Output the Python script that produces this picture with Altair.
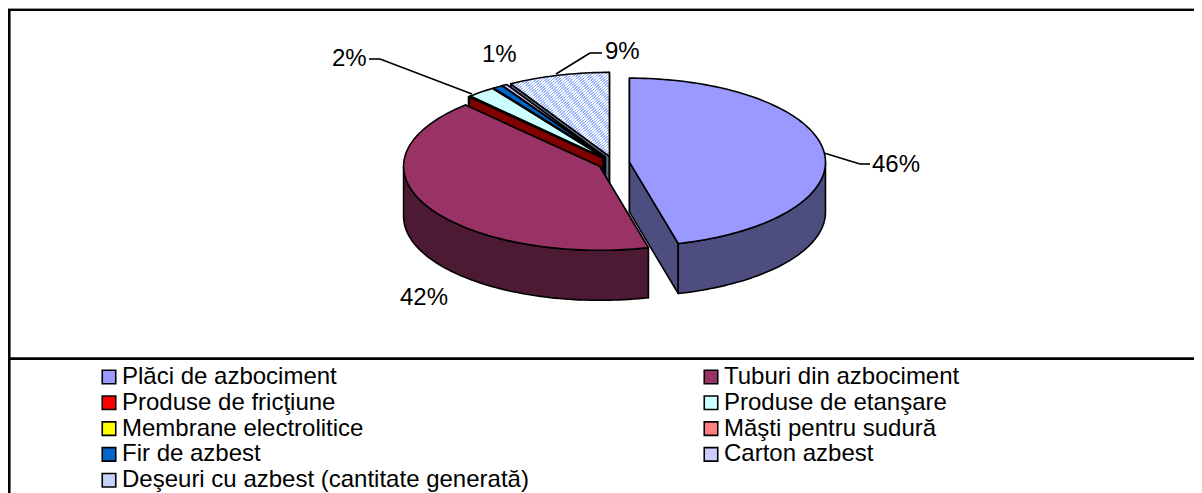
import math
import altair as alt

categories = ["Plăci de azbociment", "Tuburi din azbociment", "Produse de fricţiune",
              "Produse de etanşare", "Membrane electrolitice", "Măşti pentru sudură",
              "Fir de azbest", "Carton azbest", "Deşeuri cu azbest (cantitate generată)"]
values = [46.0, 42.0, 0.1, 2.3, 0.0, 0.0, 0.8, 0.4, 8.4]
top_colors = ["#9999FF", "#993366", "#FF0000", "#CCFFFF", "#FFFF00", "#FF8080",
              "#0066CC", "#CCCCFF", "#C4D2F8"]
side_colors = ["#4D4D80", "#4D1A33", "#800000", "#668080", "#808000", "#804040",
               "#003366", "#666680", "#66708C"]
paint_order = [8, 7, 6, 5, 4, 3, 2, 1, 0]

TILT = 84 / 196        # vertical squash of the pie ellipse
DEPTH = 50 / 196       # wall height, in radii
EXPLODE = 16 / 196     # slice explosion, in radii

def pt(t, ox, oy, drop=0.0):
    return [ox + math.sin(t), oy - TILT * math.cos(t) + drop]

features = []
hatched_top = []
def feature(points, color, order):
    ring = [list(p) for p in points]
    ring.append(ring[0])
    return {"type": "Feature", "geometry": {"type": "Polygon", "coordinates": [ring]},
            "properties": {"c": color, "order": order}}

starts, acc = [], 0.0
for v in values:
    starts.append(acc)
    acc += v
total = acc

order = 0
for i in paint_order:
    if values[i] <= 0:
        continue
    t1 = 2 * math.pi * starts[i] / total
    t2 = 2 * math.pi * (starts[i] + values[i]) / total
    tm = (t1 + t2) / 2
    ox = EXPLODE * math.sin(tm)
    oy = -TILT * EXPLODE * math.cos(tm)
    apex, apex_low = [ox, oy], [ox, oy + DEPTH]
    for t in (t1, t2):
        order += 1
        features.append(feature([apex, pt(t, ox, oy), pt(t, ox, oy, DEPTH), apex_low], side_colors[i], order))
    a, b = max(t1, math.pi / 2), min(t2, 3 * math.pi / 2)
    if b > a:
        n = max(2, int((b - a) * 40))
        ts = [a + (b - a) * k / n for k in range(n + 1)]
        order += 1
        features.append(feature([pt(t, ox, oy) for t in ts] + [pt(t, ox, oy, DEPTH) for t in reversed(ts)],
                                side_colors[i], order))
    n = max(2, int((t2 - t1) * 40))
    ts = [t1 + (t2 - t1) * k / n for k in range(n + 1)]
    order += 1
    top = feature([apex] + [pt(t, ox, oy) for t in ts], top_colors[i], order)
    if i == 8:
        hatched_top.append(top)
    else:
        features.append(top)

W, H = 1186, 485
PROJ = dict(type="identity", scale=196, translate=[613.6 - 8, 163 - 8])

back = [f for f in features if f["properties"]["order"] <= 2]
front = [f for f in features if f["properties"]["order"] > 2]

def shapes(items):
    return (alt.Chart(alt.Data(values=items))
            .mark_geoshape(stroke="black", strokeWidth=1.6, strokeJoin="round")
            .encode(fill=alt.Fill("properties.c:N", scale=None),
                    order=alt.Order("properties.order:Q"))
            .project(**PROJ))

stripes = []
N = 60
for k in range(N):
    stripes += [alt.GradientStop(offset=k / N, color="#99B3FF"),
                alt.GradientStop(offset=(k + 0.5) / N, color="#99B3FF"),
                alt.GradientStop(offset=(k + 0.5) / N, color="#FFFFFF"),
                alt.GradientStop(offset=(k + 1) / N, color="#FFFFFF")]
hatch = (alt.Chart(alt.Data(values=hatched_top))
         .mark_geoshape(stroke="black", strokeWidth=1.6, strokeJoin="round",
                        fill=alt.LinearGradient(gradient="linear", x1=0, y1=0, x2=1, y2=1, stops=stripes))
         .project(**PROJ))

legend_layer = (alt.Chart(alt.Data(values=[{"cat": c} for c in categories]))
                .mark_square(size=0, opacity=0)
                .encode(x=alt.value(0), y=alt.value(0),
                        color=alt.Color("cat:N",
                                        scale=alt.Scale(domain=categories, range=top_colors),
                                        legend=alt.Legend(
                                            orient="none", legendX=89, legendY=357,
                                            direction="horizontal", columns=2, title=None,
                                            symbolType="square", symbolSize=182,
                                            symbolOpacity=1,
                                            symbolStrokeColor="black", symbolStrokeWidth=1.6,
                                            labelFont="Liberation Sans", labelFontSize=24,
                                            labelColor="black", labelLimit=600, labelOffset=1,
                                            rowPadding=1.8, columnPadding=170,
                                            symbolOffset=0, padding=0,
                                            gridAlign="each"))))

def rule(x, y, x2, y2, width, color="black"):
    return (alt.Chart(alt.Data(values=[{}])).mark_rule(color=color, strokeWidth=width)
            .encode(x=alt.value(x - 8), y=alt.value(y - 8), x2=alt.value(x2 - 8), y2=alt.value(y2 - 8)))

def label(txt, x, y):
    return (alt.Chart(alt.Data(values=[{}]))
            .mark_text(font="Liberation Sans", fontSize=24, color="black", align="left", baseline="middle")
            .encode(x=alt.value(x - 8), y=alt.value(y - 8), text=alt.value(txt)))

layers = [
    rule(8, 8.5, 1202, 8.5, 1, "#999999"),
    rule(8, 10, 1202, 10, 2),
    rule(9.3, 9, 9.3, 493, 2.6),
    rule(9, 358.6, 1202, 358.6, 2.6),
    shapes(back),
    hatch,
    shapes(front),
    rule(824, 153, 860, 164, 1.6), rule(860, 164, 870, 164, 1.6),
    rule(369, 59, 380, 59, 1.6), rule(380, 59, 472, 94, 1.6),
    rule(556, 74, 590, 53, 1.6), rule(590, 53, 602, 53, 1.6),
    label("46%", 872, 165),
    label("42%", 400, 298),
    label("2%", 332, 59),
    label("1%", 482, 55),
    label("9%", 605, 52),
    legend_layer,
]

chart = (alt.layer(*layers)
         .properties(width=W, height=H, padding=0, autosize=alt.AutoSizeParams(type="none"))
         .configure_view(stroke=None))
chart.save("out.html", embed_options={"renderer": "svg", "actions": False})
